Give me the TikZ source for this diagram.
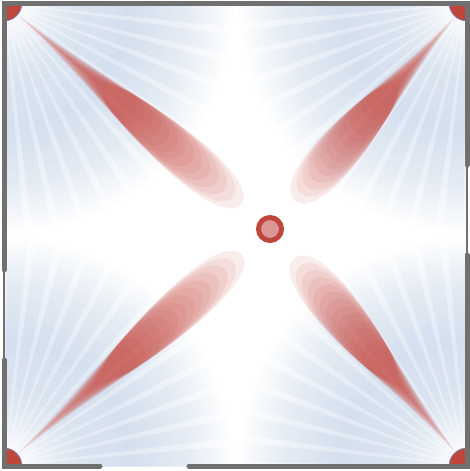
\documentclass[tikz,border=0pt]{standalone}
\usepackage{tikz}
\usetikzlibrary{fadings}
\definecolor{wallgray}{HTML}{707070}
\definecolor{rayblue}{HTML}{BECFE6}
\definecolor{bladered}{HTML}{C8453C}
\definecolor{capred}{HTML}{C0463C}
\definecolor{capblue}{HTML}{6E8CC8}
\definecolor{hubpink}{HTML}{DC9696}
\pgfdeclareradialshading{rayshade}{\pgfpointorigin}{color(0bp)=(transparent!100); color(2bp)=(transparent!85); color(6bp)=(transparent!35); color(10.5bp)=(transparent!20); color(15bp)=(transparent!55); color(19bp)=(transparent!100); color(50bp)=(transparent!100)}
\tikzfading[name=rayfade,shading=rayshade]

\begin{document}
\begin{tikzpicture}[x=1pt,y=-1pt,
  wall/.style={wallgray,line width=5pt,line cap=round},
  gap/.style={wallgray,line width=1.5pt},
  cornercap/.style={fill=capred,draw=capblue,line width=0.6pt},
  bladelayer/.style={fill=bladered,fill opacity=0.095},
  hubring/.style={circle,draw=capred,fill=hubpink,line width=5pt,minimum size=23pt,inner sep=0pt}]
\useasboundingbox (0,0) rectangle (469,471);
\coordinate (nw) at (4,3);
\coordinate (ne) at (467,3);
\coordinate (sw) at (4,466);
\coordinate (se) at (467,466);
\coordinate (hub) at (270,229);
\fill[white] (0,0) rectangle (469,471);
\begin{scope}
  \clip (nw) rectangle (se);
  \foreach \c/\a in {nw/0,ne/90,se/180,sw/270}{
    \fill[rayblue,path fading=rayfade,fill opacity=0.55] (\c) circle (300);
    \begin{scope}
      \clip foreach \t in {0,7,...,84} {(\c) -- +(\a+\t+1:700) -- +(\a+\t+6:700) -- cycle};
      \fill[rayblue,path fading=rayfade,fill opacity=0.45] (\c) circle (300);
    \end{scope}}
  \foreach \c/\ang/\len in {nw/40.35/349,ne/131.08/300,sw/318.3/356,se/230.26/308}{
    \pgfmathsetmacro\L{\len-38}
    \begin{scope}[shift={(\c)},rotate=-\ang]
      \foreach \k in {0,...,13}{
        \pgfmathsetmacro\ps{14+\k*0.025*\L}
        \pgfmathsetmacro\pe{\L-\k*0.035*\L}
        \pgfmathsetmacro\pl{\pe-\ps}
        \pgfmathsetmacro\pw{22-\k*0.6}
        \path[bladelayer] (\ps,0) .. controls (\ps+0.35*\pl,0.25*\pw) and (\ps+0.55*\pl,\pw) .. (\ps+0.78*\pl,\pw)
          .. controls (\ps+0.93*\pl,\pw) and (\pe,0.55*\pw) .. (\pe,0)
          .. controls (\pe,-0.55*\pw) and (\ps+0.93*\pl,-\pw) .. (\ps+0.78*\pl,-\pw)
          .. controls (\ps+0.55*\pl,-\pw) and (\ps+0.35*\pl,-0.25*\pw) .. cycle;}
    \end{scope}}
  \foreach \c in {nw,ne,sw,se}
    \filldraw[cornercap] (\c) circle (18);
\end{scope}
\node[hubring] (hubdot) at (hub) {};
\draw[wall] (4,270) -- (nw) -- (ne) -- (467,165);
\draw[wall] (467,255) -- (se) -- (189,466);
\draw[wall] (100,466) -- (sw) -- (4,360);
\draw[gap] (4,270) -- (4,360);
\draw[gap] (467,165) -- (467,255);
\end{tikzpicture}
\end{document}
